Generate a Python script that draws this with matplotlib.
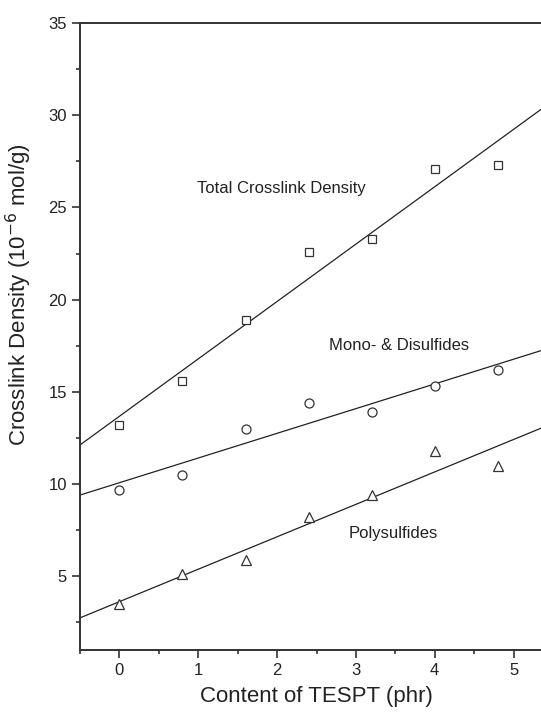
import numpy as np
import matplotlib
matplotlib.use("Agg")
import matplotlib.pyplot as plt
from matplotlib.ticker import MultipleLocator

plt.rcParams['font.family'] = ['Liberation Sans', 'DejaVu Sans']

# TESPT loading (phr) and crosslink densities (10^-6 mol/g)
tespt = [0, 0.8, 1.6, 2.4, 3.2, 4.0, 4.8]
total = [13.2, 15.6, 18.9, 22.6, 23.3, 27.1, 27.3]
mono_di = [9.7, 10.5, 13.0, 14.4, 13.9, 15.3, 16.2]
poly = [3.5, 5.1, 5.9, 8.2, 9.4, 11.8, 11.0]

series_labels = ["Total Crosslink Density", "Mono- & Disulfides", "Polysulfides"]

W, H = 541, 715
fig = plt.figure(figsize=(W / 100, H / 100), dpi=100)
# axes run a little past the right edge of the figure
ax = fig.add_axes([80 / W, 65 / H, 473 / W, 627 / H])

xmin, xmax = -0.5, 5.5
xfit = np.array([xmin, xmax])
x = np.array(tespt)

for y, m, ms in [(total, 's', 6), (mono_di, 'o', 6.5), (poly, '^', 7.5)]:
    k, b = np.polyfit(x, y, 1)
    ax.plot(xfit, k * xfit + b, color='#222222', lw=0.9)
    ax.plot(x, y, m, ms=ms, mfc='white', mec='#333333', mew=0.9, ls='none')

ax.text(0.98, 26.0, series_labels[0], fontsize=12, va='center', color='#222222')
ax.text(2.66, 17.5, series_labels[1], fontsize=12, va='center', color='#222222')
ax.text(2.91, 7.3, series_labels[2], fontsize=12, va='center', color='#222222')

ax.set_xlim(xmin, xmax)
ax.set_ylim(1.0, 35)
ax.xaxis.set_minor_locator(MultipleLocator(0.5))
ax.set_xticks([0, 1, 2, 3, 4, 5])
ax.yaxis.set_minor_locator(MultipleLocator(2.5))
ax.set_yticks([5, 10, 15, 20, 25, 30, 35])

for s in ['left', 'bottom', 'top']:
    ax.spines[s].set_linewidth(1.4)
    ax.spines[s].set_color('#333333')
ax.spines['right'].set_visible(False)

ax.tick_params(which='major', direction='out', length=5.5, width=1.2, color='#333333',
               labelsize=12, labelcolor='#222222', pad=4)
ax.tick_params(which='minor', direction='out', length=3, width=1.2, color='#333333')

ax.set_xlabel("Content of TESPT (phr)", fontsize=16, color='#222222')
ax.xaxis.set_label_coords(0.5, -(686 - 650) / 627)
ax.set_ylabel("Crosslink Density (10$^{-6}$ mol/g)", fontsize=16, color='#222222')
ax.yaxis.set_label_coords(-(80 - 34) / 473, (650 - 295) / 627)

fig.savefig("out.png", dpi=100)
